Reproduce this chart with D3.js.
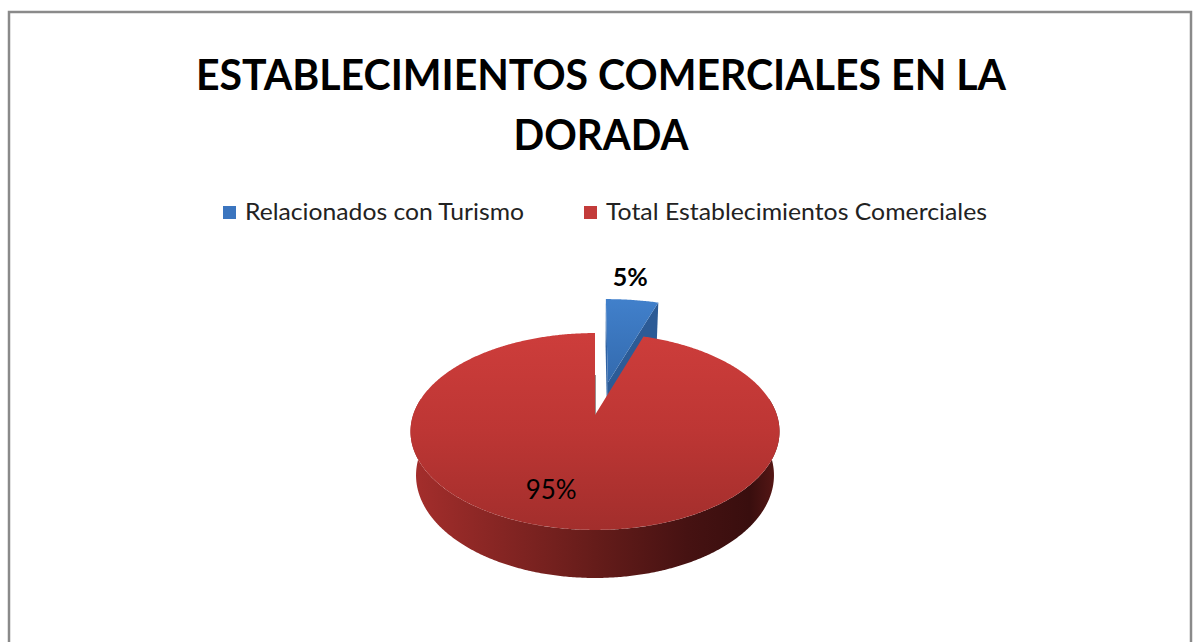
<!DOCTYPE html>
<html>
<head>
<meta charset="utf-8">
<script src="https://cdn.jsdelivr.net/npm/d3@7"></script>
<style>
  html, body { margin: 0; padding: 0; background: #ffffff; }
  svg { display: block; }
</style>
</head>
<body>
<svg id="chart" width="1193" height="642"></svg>
<script>
// ---------------- data ----------------
const titleLines = ["ESTABLECIMIENTOS COMERCIALES EN LA", "DORADA"];
const categories = ["Relacionados con Turismo", "Total Establecimientos Comerciales"];
const values = [5, 95];
const valueLabels = ["5%", "95%"];

// ---------------- style / layout ----------------
const W = 1193, H = 642;
const FONT = "Lato, 'Open Sans', 'Liberation Sans', sans-serif";
const legendColors = ["#3b75bf", "#c33b3a"];

// 3D perspective parameters (disk radius = 1 unit)
const V = { cx: 595, cy: 415, f: 924, D: 5.08, s: 0.526, c: 0.851, depth: 0.29 };
// exploded slice geometry
const EXP = { dx: 0.075, dFar: 0.36, scale: 1.16, depth: 0.36 };

const svg = d3.select("#chart");
const defs = svg.append("defs");

// border
svg.append("rect")
  .attr("x", 9).attr("y", 12)
  .attr("width", 1182).attr("height", 700)
  .attr("fill", "none").attr("stroke", "#8a8a8a").attr("stroke-width", 2.5);

// title
const title = svg.append("g");
const titleWidths = [810, 175];
titleLines.forEach((t, i) => {
  title.append("text")
    .attr("x", 601).attr("y", 90 + i * 60)
    .attr("text-anchor", "middle")
    .attr("font-family", FONT).attr("font-weight", 700).attr("font-size", 42)
    .attr("textLength", titleWidths[i]).attr("lengthAdjust", "spacingAndGlyphs")
    .attr("fill", "#000").text(t);
});

// legend
const legendX = [223, 584];
const legendTextW = [279, 381];
const lg = svg.append("g");
categories.forEach((c, i) => {
  lg.append("rect").attr("x", legendX[i]).attr("y", 206).attr("width", 13).attr("height", 13)
    .attr("fill", legendColors[i]);
  lg.append("text").attr("x", legendX[i] + 22).attr("y", 220)
    .attr("font-family", FONT).attr("font-size", 23.5).attr("fill", "#222")
    .attr("textLength", legendTextW[i]).attr("lengthAdjust", "spacingAndGlyphs")
    .text(c);
});

// ---------------- projection ----------------
function proj(px, pz, py) {
  const yc = py * V.c - pz * V.s;
  const dist = V.D - (pz * V.c + py * V.s);
  return [V.cx + V.f * px / dist, V.cy - V.f * yc / dist];
}
// point on disk at angle a (clockwise from 12 o'clock), radius r, height h, with offset
function pt(a, r, h, off) {
  const o = off || { dx: 0, dFar: 0 };
  return proj(o.dx + r * Math.sin(a), -(o.dFar + r * Math.cos(a)), h);
}
function arcPts(a0, a1, r, h, off) {
  const n = Math.max(2, Math.ceil(Math.abs(a1 - a0) / (Math.PI / 360)));
  return d3.range(n + 1).map(i => pt(a0 + (a1 - a0) * i / n, r, h, off));
}
const line = d3.line().curve(d3.curveLinearClosed);

// ---------------- pie ----------------
const arcs = d3.pie().sort(null).value(d => d)(values);
const blue = arcs[0], red = arcs[1];
const d = -V.depth;
const bd = -EXP.depth;

// gradients
const redTopPts = arcPts(red.startAngle, red.endAngle, 1, 0);
const xs = redTopPts.map(p => p[0]);
const ys = redTopPts.map(p => p[1]);
const xMin = d3.min(xs), xMax = d3.max(xs), yMin = d3.min(ys), yMax = d3.max(ys);

function grad(id, x1, y1, x2, y2, stops) {
  const g = defs.append("linearGradient").attr("id", id)
    .attr("gradientUnits", "userSpaceOnUse")
    .attr("x1", x1).attr("y1", y1).attr("x2", x2).attr("y2", y2);
  stops.forEach(s => g.append("stop").attr("offset", s[0]).attr("stop-color", s[1]));
}
grad("redTop", 0, yMin, 0, yMax, [[0, "#cd3d3b"], [0.5, "#bd3634"], [1, "#a22e2c"]]);
grad("redSide", xMin, 0, xMax, 0, [[0, "#a52e2c"], [0.25, "#852523"], [0.5, "#651c1a"],
  [0.75, "#461212"], [0.92, "#390e0e"], [1, "#5a1816"]]);

const blueTopPts = [pt(blue.startAngle, 0, 0, EXP)].concat(arcPts(blue.startAngle, blue.endAngle, EXP.scale, 0, EXP));
const bys = blueTopPts.map(p => p[1]);
grad("blueTop", 0, d3.min(bys), 0, d3.max(bys), [[0, "#4180cb"], [1, "#336aae"]]);

const pieG = svg.append("g");

// blue slice: radial side faces then top
pieG.append("path")
  .attr("d", line([pt(blue.startAngle, 0, 0, EXP), pt(blue.startAngle, EXP.scale, 0, EXP),
    pt(blue.startAngle, EXP.scale, bd, EXP), pt(blue.startAngle, 0, bd, EXP)]))
  .attr("fill", "#2f62a3");
pieG.append("path")
  .attr("d", line([pt(blue.endAngle, 0, 0, EXP), pt(blue.endAngle, EXP.scale, 0, EXP),
    pt(blue.endAngle, EXP.scale, bd, EXP), pt(blue.endAngle, 0, bd, EXP)]))
  .attr("fill", "#2c5b96");
pieG.append("path").attr("d", line(blueTopPts)).attr("fill", "url(#blueTop)");

// red slice: visible outer side
const sideA0 = Math.max(red.startAngle, Math.PI * 80 / 180);
const sideA1 = Math.min(red.endAngle, Math.PI * 280 / 180);
const sidePts = arcPts(sideA0, sideA1, 1, 0).concat(arcPts(sideA1, sideA0, 1, d));
pieG.append("path").attr("d", line(sidePts)).attr("fill", "url(#redSide)");

// red radial face at 12 o'clock (seen almost edge-on)
pieG.append("path")
  .attr("d", d3.line()([pt(red.endAngle, 0.45, 0), pt(red.endAngle, 0, 0)]))
  .attr("stroke", "#9a8f8f").attr("stroke-width", 2).attr("fill", "none");

// red top face
pieG.append("path")
  .attr("d", line([pt(red.startAngle, 0, 0)].concat(redTopPts)))
  .attr("fill", "url(#redTop)");

// ---------------- data labels ----------------
const bl = pt((blue.startAngle + blue.endAngle) / 2, EXP.scale, 0, EXP);
svg.append("text").attr("x", bl[0] - 2).attr("y", bl[1] - 14)
  .attr("text-anchor", "middle")
  .attr("font-family", FONT).attr("font-weight", 700).attr("font-size", 25)
  .attr("fill", "#000").text(valueLabels[0]);

const redLabelAngle = (red.startAngle + red.endAngle) / 2 + Math.PI * 7 / 180;
const rl = pt(redLabelAngle, 0.72, 0);
svg.append("text").attr("x", rl[0] - 3).attr("y", rl[1] + 9)
  .attr("text-anchor", "middle")
  .attr("font-family", FONT).attr("font-size", 26)
  .attr("fill", "#000").text(valueLabels[1]);
</script>
</body>
</html>
